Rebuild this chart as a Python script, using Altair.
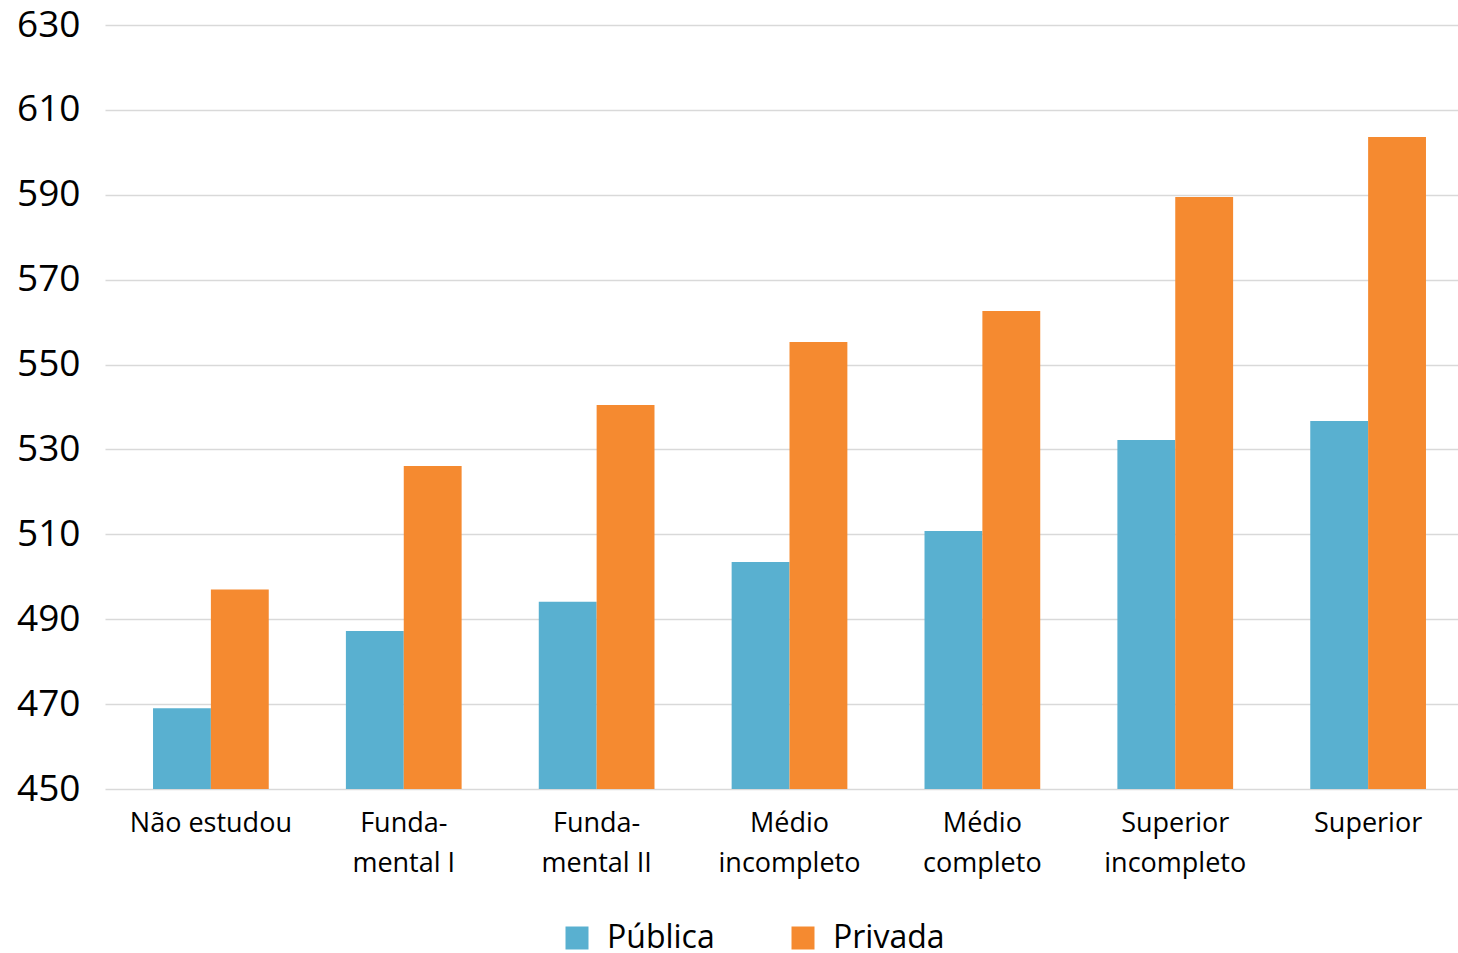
import altair as alt
import pandas as pd

categories = ["Não estudou", "Funda-|mental I", "Funda-|mental II", "Médio|incompleto",
              "Médio|completo", "Superior|incompleto", "Superior"]
publica = [469.0, 487.2, 494.1, 503.5, 510.8, 532.2, 536.7]
privada = [497.0, 526.1, 540.5, 555.3, 562.6, 589.5, 603.6]
series = ["Pública", "Privada"]
colors = ["#59B0D0", "#F58A30"]
y_ticks = [450, 470, 490, 510, 530, 550, 570, 590, 610, 630]

rows = []
for c, a, b in zip(categories, publica, privada):
    rows.append({"cat": c, "serie": "Pública", "valor": a})
    rows.append({"cat": c, "serie": "Privada", "valor": b})
df = pd.DataFrame(rows)

FONT = "Open Sans"

chart = alt.Chart(df).mark_bar(clip=True).encode(
    x=alt.X("cat:N", sort=categories, title=None,
            scale=alt.Scale(paddingInner=0.4, paddingOuter=0.2075, align=0.6),
            axis=alt.Axis(labelExpr="split(datum.label, '|')", labelAngle=0,
                          labelFontSize=27, labelFont=FONT, labelColor="#000000",
                          labelLineHeight=40, labelPadding=21, ticks=False,
                          domain=False, grid=False)),
    xOffset=alt.XOffset("serie:N", sort=series),
    y=alt.Y("valor:Q", title=None,
            scale=alt.Scale(domain=[450, 630], nice=False, zero=False),
            axis=alt.Axis(values=y_ticks, labelFontSize=37, labelFont=FONT,
                          labelColor="#000000", labelPadding=25, ticks=False,
                          domain=False, grid=True, gridColor="#D9D9D9",
                          gridWidth=1.3)),
    color=alt.Color("serie:N", sort=series,
                    scale=alt.Scale(domain=series, range=colors),
                    legend=alt.Legend(title=None, orient="none", direction="horizontal",
                                      legendX=456, legendY=897,
                                      symbolType="square", symbolSize=529,
                                      symbolStrokeWidth=0, symbolOpacity=1,
                                      labelFontSize=32, labelFont=FONT,
                                      labelColor="#000000", labelOffset=14,
                                      columnPadding=72)),
).properties(
    width=1353, height=764,
    background="#FFFFFF",
    autosize=alt.AutoSizeParams(type="none"),
    padding={"left": 105, "top": 25, "right": 0, "bottom": 164},
).configure_view(strokeWidth=0, stroke="transparent")

chart.save("out.html", embed_options={"renderer": "svg", "actions": False})
